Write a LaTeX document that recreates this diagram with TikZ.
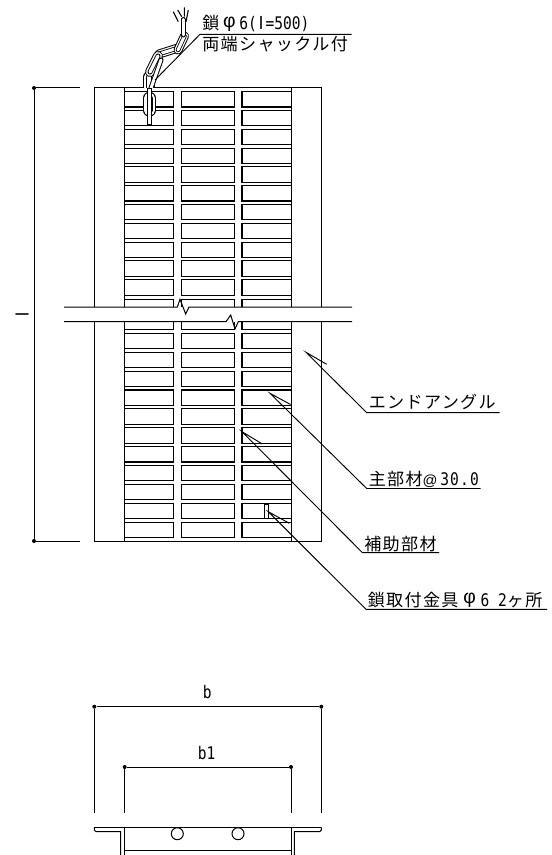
\documentclass[tikz,border=0pt]{standalone}
\usepackage{fontspec}
\setmainfont[LetterSpace=8]{Noto Sans CJK JP}
\newfontfamily\latn[FakeStretch=0.84]{DejaVu Sans Mono}
\newfontfamily\latw[FakeStretch=0.84,LetterSpace=7]{DejaVu Sans Mono}
\newfontfamily\phif{Liberation Sans}
\newfontfamily\barl{Liberation Sans}
\newcommand{\fs}{\fontsize{12.8pt}{14pt}\selectfont}
\newcommand{\fl}{\fontsize{13pt}{14pt}\latn}
\newcommand{\fw}{\fontsize{13pt}{14pt}\latw}
\newcommand{\lbar}{\makebox[6.56pt]{\fontsize{13.5pt}{14pt}\barl l}}
\newcommand{\phic}{\raisebox{1.6pt}{\fontsize{14.5pt}{14pt}\phif φ}}
\tikzset{
  ln/.style={line width=0.75pt,black},
  thinl/.style={line width=0.7pt,black},
  brick/.style={line width=0.85pt,black,fill=white},
  dot/.style={circle,fill=black,inner sep=0pt,minimum size=3pt},
  lbl/.style={inner sep=0pt,font=\fs,anchor=base west},
  dim/.style={inner sep=0pt,font=\fl,anchor=base},
}
\newcommand{\brickrow}[1]{%
  \draw[brick] (124.7,#1) rectangle (173.3,#1+15.3);
  \draw[brick] (181.3,#1) rectangle (234.3,#1+15.3);
  \draw[brick] (242,#1) rectangle (291.3,#1+15.3);
}
% face-on link: ring drawn as outer and inner stadium
\newcommand{\chface}[3]{%
  \draw[line cap=round,black,line width=#3*0.75pt] #1 -- #2;
  \draw[line cap=round,white,line width=#3*0.75pt-1.5pt] #1 -- #2;
  \draw[line cap=round,black,line width=#3*0.30pt+0.75pt] #1 -- #2;
  \draw[line cap=round,white,line width=#3*0.30pt-0.5pt] #1 -- #2;
}
% edge-on link: a narrow outline
\newcommand{\chedge}[3]{%
  \draw[line cap=round,black,line width=#3*0.75pt] #1 -- #2;
  \draw[line cap=round,white,line width=#3*0.75pt-1.5pt] #1 -- #2;
}
\begin{document}
\begin{tikzpicture}[x=0.75pt,y=-0.75pt]
\useasboundingbox (0,0) rectangle (551,855);
% frame
\draw[ln] (94.5,87.8) rectangle (321.5,541.3);
\draw[ln] (124.7,87.8) -- (124.7,541.3);
\draw[ln] (291.3,87.8) -- (291.3,541.3);
% bricks above the break
\foreach \y in {91.7,110.5,129.3,148.1,166.9,185.7,204.5,223.3,242.1,260.9,279.8}{\brickrow{\y}}
% bricks below the break
\foreach \y in {333.3,352.2,371.1,390,408.9,427.8,446.7,465.6,484.5,503.4,522.3}{\brickrow{\y}}
% broken row
\draw[brick] (124.7,299.3) rectangle (173.3,329.3);
\draw[brick] (181.3,299.3) rectangle (234.3,329.3);
\draw[brick] (242,299.3) rectangle (291.3,329.3);
% break gap
\fill[white] (60,307) rectangle (356,321.7);
\draw[ln] (64,307) -- (177.3,307) -- (180,299.3) -- (185.7,314) -- (189,307) -- (352,307);
\draw[ln] (64,321.7) -- (226,321.7) -- (230.7,315) -- (235,329) -- (238.3,321.7) -- (352,321.7);
% clip
\draw[line width=0.6pt,fill=white] (264.7,504) rectangle (268.7,518);
% dimension l
\node[dot] (lt) at (34,88) {};
\node[dot] (lb) at (34,541) {};
\coordinate (ltr) at (80,88);
\coordinate (lbr) at (80,541);
\draw[ln] (ltr) -- (lt) -- (lb) -- (lbr);
\node[inner sep=0pt,rotate=90,font=\fontsize{13.5pt}{14pt}\barl] (ll) at (22,314) {l};
% chain: lower link inside the frame
\chface{(149.5,98)}{(149.5,110.5)}{12.5}
\draw[line width=0.8pt,fill=white] (147.5,88) rectangle (151.5,125);
% chain: upper links
\begin{scope}
\clip (130,0) rectangle (200,87.4);
\chface{(149.3,77)}{(149.3,92)}{12}
\chface{(159,54)}{(178,48)}{9}
\chface{(150,72)}{(158,56)}{10}
\chedge{(151,88)}{(161,60)}{5}
\chface{(178,50)}{(184.5,36)}{9}
\chedge{(183,19.5)}{(183,35)}{5}
\end{scope}
\draw[line width=0.8pt] (173.3,11.7) -- (178.3,21.7) (177.7,10) -- (181.7,16.7) (184.3,7.3) -- (184.3,16.7) (188.3,10) -- (186,21.7);
% chain label
\coordinate (ca) at (155,80);
\coordinate (cb) at (200,34.3);
\coordinate (cc) at (351.7,34.3);
\draw[thinl] (ca) -- (cb) -- (cc);
\node[lbl] (t1) at (202,30) {鎖\makebox[15pt]{\phic}{\fl 6(\lbar=500)}};
\node[lbl] (t2) at (202,50.5) {両端シャックル付};
% leaders
\coordinate (e0) at (306,352.3); \coordinate (e1) at (326.7,364.3); \coordinate (e2) at (366.7,412.7); \coordinate (e3) at (499.5,412.7);
\draw[thinl] (e1) -- (e0) -- (e2) -- (e3);
\node[lbl] (te) at (368.5,408.5) {エンドアングル};
\coordinate (m0) at (270,393.3); \coordinate (m1) at (290.5,404.5); \coordinate (m2) at (366.7,488.5); \coordinate (m3) at (480.7,488.5);
\draw[thinl] (m1) -- (m0) -- (m2) -- (m3);
\node[lbl] (tm) at (368.5,485) {主部材{\fontsize{11pt}{14pt}\barl @}\hspace{2pt}{\fw 30.0}};
\coordinate (h0) at (242,431.7); \coordinate (h1) at (262.3,444); \coordinate (h2) at (362.5,552.7); \coordinate (h3) at (439,552.7);
\draw[thinl] (h1) -- (h0) -- (h2) -- (h3);
\node[lbl] (th) at (364,550) {補助部材};
\coordinate (k0) at (268.3,511.7); \coordinate (k1) at (289.3,523.3); \coordinate (k2) at (366,609.3); \coordinate (k3) at (547,609.3);
\draw[thinl] (k1) -- (k0) -- (k2) -- (k3);
\node[lbl] (tk) at (367.5,606) {鎖取付金具\makebox[16.5pt]{\phic}{\fl 6\hspace{6.56pt}2}ヶ所};
% dimensions b, b1
\node[dot] (ba) at (94.3,706.7) {};
\node[dot] (bb) at (321.3,706.7) {};
\coordinate (bad) at (94.3,812.7);
\coordinate (bbd) at (321.3,812.7);
\draw[ln] (bad) -- (ba) -- (bb) -- (bbd);
\node[dim] (tb) at (207.3,698.3) {b};
\node[dot] (ca1) at (124.7,767) {};
\node[dot] (cb1) at (291,767) {};
\coordinate (cad) at (124.7,812.7);
\coordinate (cbd) at (291,812.7);
\draw[ln] (cad) -- (ca1) -- (cb1) -- (cbd);
\node[dim] (tb1) at (206.7,759) {b1};
% section
\draw[ln] (94.3,827.3) -- (321.3,827.3);
\draw[ln] (94.3,827.3) -- (94.3,830) -- (96,831.7) -- (120.7,831.7) -- (120.7,855);
\draw[ln] (321.3,827.3) -- (321.3,830) -- (319.6,831.7) -- (294.3,831.7) -- (294.3,855);
\draw[ln] (124.7,827.3) -- (124.7,855);
\draw[ln] (291,827.3) -- (291,855);
\draw[ln] (124.7,850.3) -- (291,850.3);
\draw[ln] (177.3,833.7) circle[radius=6];
\draw[ln] (238,833.7) circle[radius=6];
\end{tikzpicture}
\end{document}
